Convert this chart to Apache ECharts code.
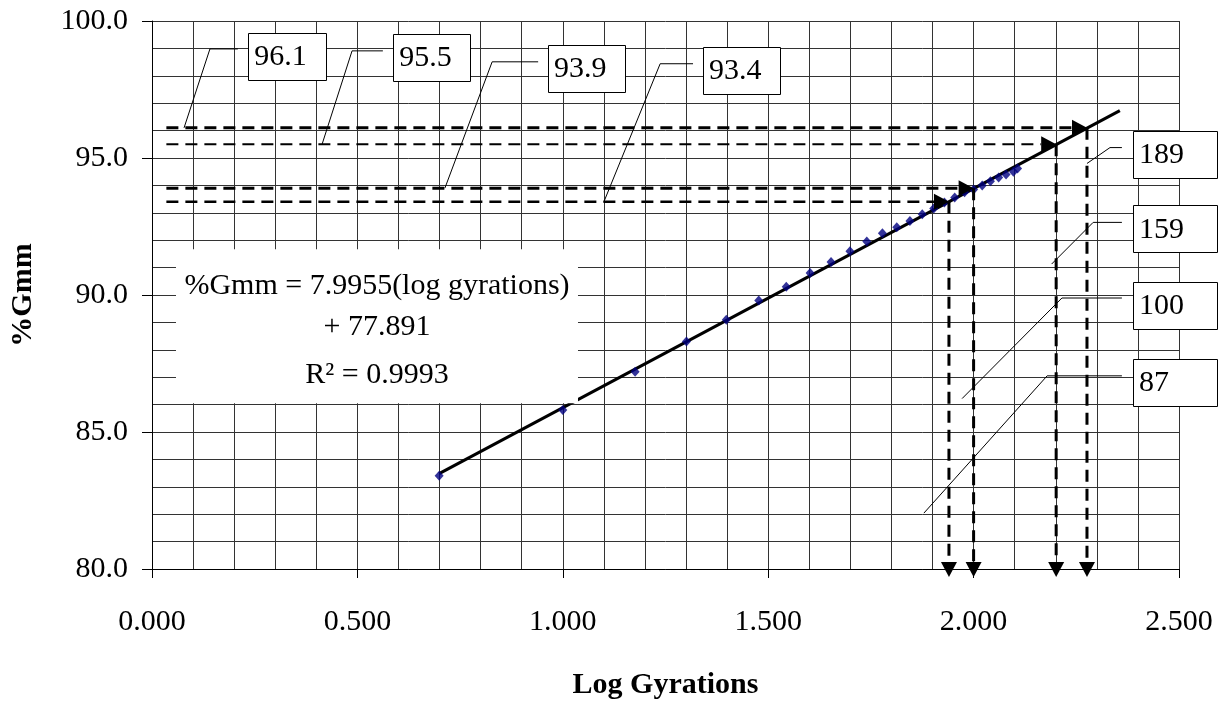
<!DOCTYPE html>
<html>
<head>
<meta charset="utf-8">
<script src="https://cdn.jsdelivr.net/npm/echarts@6/dist/echarts.min.js"></script>
<style>
  html, body { margin: 0; padding: 0; background: #fff; }
  #chart { width: 1219px; height: 705px; }
</style>
</head>
<body>
<div id="chart"></div>
<script>
// Gyratory compaction: %Gmm against log10 of the gyration count
const logGyrations = [0.699, 1.000, 1.176, 1.301, 1.398, 1.477, 1.544, 1.602, 1.653,
  1.699, 1.740, 1.778, 1.813, 1.845, 1.875, 1.903, 1.929, 1.954, 1.978, 2.000,
  2.021, 2.041, 2.061, 2.079, 2.097, 2.107];
const pctGmm = [83.4, 85.8, 87.2, 88.3, 89.1, 89.8, 90.3, 90.8, 91.2,
  91.6, 91.95, 92.25, 92.47, 92.7, 92.95, 93.16, 93.38, 93.56, 93.75, 93.85,
  94.0, 94.15, 94.29, 94.4, 94.5, 94.62];

// Least-squares trend line and its reported statistics
const fitSlope = 7.9955;
const fitIntercept = 77.891;
const fitRange = [0.699, 2.356];
const rSquared = '0.9993';

// Target densities and the gyration counts read back from the trend line
const targetGmm = [96.1, 95.5, 93.9, 93.4];
const targetGyrations = [189, 159, 100, 87];
const targetLog = [2.276, 2.201, 2.000, 1.940];

// Axis ranges
const xRange = [0, 2.5], xStep = 0.5;
const yRange = [80, 100], yStep = 5;

const FONT = '"Liberation Serif", "Times New Roman", Times, serif';
const INK = '#000';

// ---- layout of the guide lines and callouts (data units) ----
const guideStartX = 0.035;
const guideWidths = [3, 2, 3, 2.5];
const guideDash = [12, 7];

const leftCallouts = [
  { anchorX: 0.078, elbow: [0.141, 98.98], endX: 0.209, box: [0.234, 99.56], w: 78 },
  { anchorX: 0.414, elbow: [0.487, 98.91], endX: 0.562, box: [0.587, 99.53], w: 77 },
  { anchorX: 0.713, elbow: [0.828, 98.51], endX: 0.940, box: [0.964, 99.13], w: 77 },
  { anchorX: 1.100, elbow: [1.237, 98.44], endX: 1.317, box: [1.341, 99.05], w: 77 }
];
const rightCallouts = [
  { anchor: [2.276, 94.80], elbow: [2.332, 95.38], endX: 2.361, box: [2.388, 96.00], w: 84 },
  { anchor: [2.190, 91.13], elbow: [2.291, 92.65], endX: 2.361, box: [2.388, 93.27], w: 84 },
  { anchor: [1.972, 86.22], elbow: [2.215, 89.89], endX: 2.361, box: [2.388, 90.47], w: 84 },
  { anchor: [1.879, 82.04], elbow: [2.179, 87.05], endX: 2.361, box: [2.388, 87.67], w: 84 }
];
const calloutHeight = 47;
const equationBox = { topLeft: [0.0584, 91.67], w: 402, h: 154 };

const gridLine = { color: '#333', width: 1 };

const option = {
  animation: false,
  backgroundColor: '#fff',
  grid: { left: 152, right: 40, top: 21, bottom: 134 },
  xAxis: {
    type: 'value',
    min: xRange[0], max: xRange[1], interval: xStep,
    name: 'Log Gyrations',
    nameLocation: 'middle',
    nameGap: 101,
    nameTextStyle: { fontFamily: FONT, fontWeight: 'bold', fontSize: 30, color: INK },
    axisLine: { show: true, lineStyle: { color: INK, width: 1 } },
    axisTick: { show: true, length: 9, lineStyle: { color: INK } },
    minorTick: { show: false, splitNumber: 5 },
    axisLabel: {
      margin: 38, fontFamily: FONT, fontSize: 30, color: INK,
      formatter: v => v.toFixed(3)
    },
    splitLine: { show: true, lineStyle: gridLine },
    minorSplitLine: { show: true, lineStyle: gridLine }
  },
  yAxis: {
    type: 'value',
    min: yRange[0], max: yRange[1], interval: yStep,
    name: '%Gmm',
    nameLocation: 'middle',
    nameGap: 114,
    nameRotate: 90,
    nameTextStyle: { fontFamily: FONT, fontWeight: 'bold', fontSize: 30, color: INK },
    axisLine: { show: true, lineStyle: { color: INK, width: 1 } },
    axisTick: { show: true, length: 10, lineStyle: { color: INK } },
    minorTick: { show: false, splitNumber: 5 },
    axisLabel: {
      margin: 24, fontFamily: FONT, fontSize: 30, color: INK,
      padding: [8, 0, 0, 0],
      formatter: v => v.toFixed(1)
    },
    splitLine: { show: true, lineStyle: gridLine },
    minorSplitLine: { show: true, lineStyle: gridLine }
  },
  series: [
    {
      name: 'Trend',
      type: 'line',
      z: 2,
      silent: true,
      symbol: 'none',
      lineStyle: { color: INK, width: 3 },
      data: fitRange.map(x => [x, fitSlope * x + fitIntercept])
    },
    {
      name: '%Gmm',
      type: 'scatter',
      z: 3,
      symbol: 'diamond',
      symbolSize: [9, 10],
      itemStyle: { color: '#000080' },
      data: logGyrations.map((x, i) => [x, pctGmm[i]])
    },
    {
      name: 'Targets',
      type: 'custom',
      z: 4,
      clip: false,
      silent: true,
      data: targetLog.map((x, i) => [x, targetGmm[i]]),
      renderItem: (params, api) => {
        const i = params.dataIndex;
        const x = api.value(0), y = api.value(1);
        const end = api.coord([x, y]);
        const start = api.coord([guideStartX, y]);
        const foot = api.coord([x, yRange[0]]);
        const A = 15, H = 8;
        return {
          type: 'group',
          children: [
            { type: 'line',
              shape: { x1: start[0], y1: end[1], x2: end[0] - A, y2: end[1] },
              style: { stroke: INK, lineWidth: guideWidths[i], lineDash: guideDash } },
            { type: 'polygon',
              shape: { points: [[end[0] - A, end[1] - H], [end[0], end[1]], [end[0] - A, end[1] + H]] },
              style: { fill: INK } },
            { type: 'line',
              shape: { x1: end[0], y1: end[1], x2: end[0], y2: foot[1] - 7 },
              style: { stroke: INK, lineWidth: 3, lineDash: guideDash } },
            { type: 'polygon',
              shape: { points: [[foot[0] - H, foot[1] - 7], [foot[0] + H, foot[1] - 7], [foot[0], foot[1] + 8]] },
              style: { fill: INK } }
          ]
        };
      }
    }
  ]
};

const chart = echarts.init(document.getElementById('chart'), null, { renderer: 'canvas' });
chart.setOption(option);

const toPx = p => chart.convertToPixel({ gridIndex: 0 }, p);
const graphics = [];

function addCallout(anchor, c, label) {
  const a = toPx(anchor), e = toPx(c.elbow), f = toPx([c.endX, c.elbow[1]]), b = toPx(c.box);
  graphics.push({
    type: 'polyline', z: 20, silent: true,
    shape: { points: [a, e, f] },
    style: { stroke: INK, lineWidth: 1, fill: null }
  });
  graphics.push({
    type: 'rect', z: 20, silent: true,
    shape: { x: Math.round(b[0]) + 0.5, y: Math.round(b[1]) + 0.5, width: c.w, height: calloutHeight },
    style: { fill: '#fff', stroke: INK, lineWidth: 1 }
  });
  graphics.push({
    type: 'text', z: 21, silent: true,
    x: b[0] + 6, y: b[1] + calloutHeight / 2 + 1,
    style: { text: label, fontFamily: FONT, fontSize: 30, fill: INK, verticalAlign: 'middle', align: 'left' }
  });
}

leftCallouts.forEach((c, i) => addCallout([c.anchorX, targetGmm[i]], c, targetGmm[i].toFixed(1)));
rightCallouts.forEach((c, i) => addCallout(c.anchor, c, String(targetGyrations[i])));

// trend-line equation panel
const eq = toPx(equationBox.topLeft);
const eqCx = eq[0] + equationBox.w / 2;
graphics.push({
  type: 'rect', z: 20, silent: true,
  shape: { x: eq[0], y: eq[1], width: equationBox.w, height: equationBox.h },
  style: { fill: '#fff', stroke: null }
});
const eqLines = [
  ['%Gmm = ' + fitSlope.toFixed(4) + '(log gyrations)', 37],
  ['+ ' + fitIntercept.toFixed(3), 78],
  ['R\u00B2 = ' + rSquared, 126]
];
eqLines.forEach(([t, dy]) => {
  graphics.push({
    type: 'text', z: 21, silent: true,
    x: eqCx, y: eq[1] + dy,
    style: { text: t, fontFamily: FONT, fontSize: 30, fill: INK, align: 'center', verticalAlign: 'middle' }
  });
});

chart.setOption({ graphic: graphics });
</script>
</body>
</html>
